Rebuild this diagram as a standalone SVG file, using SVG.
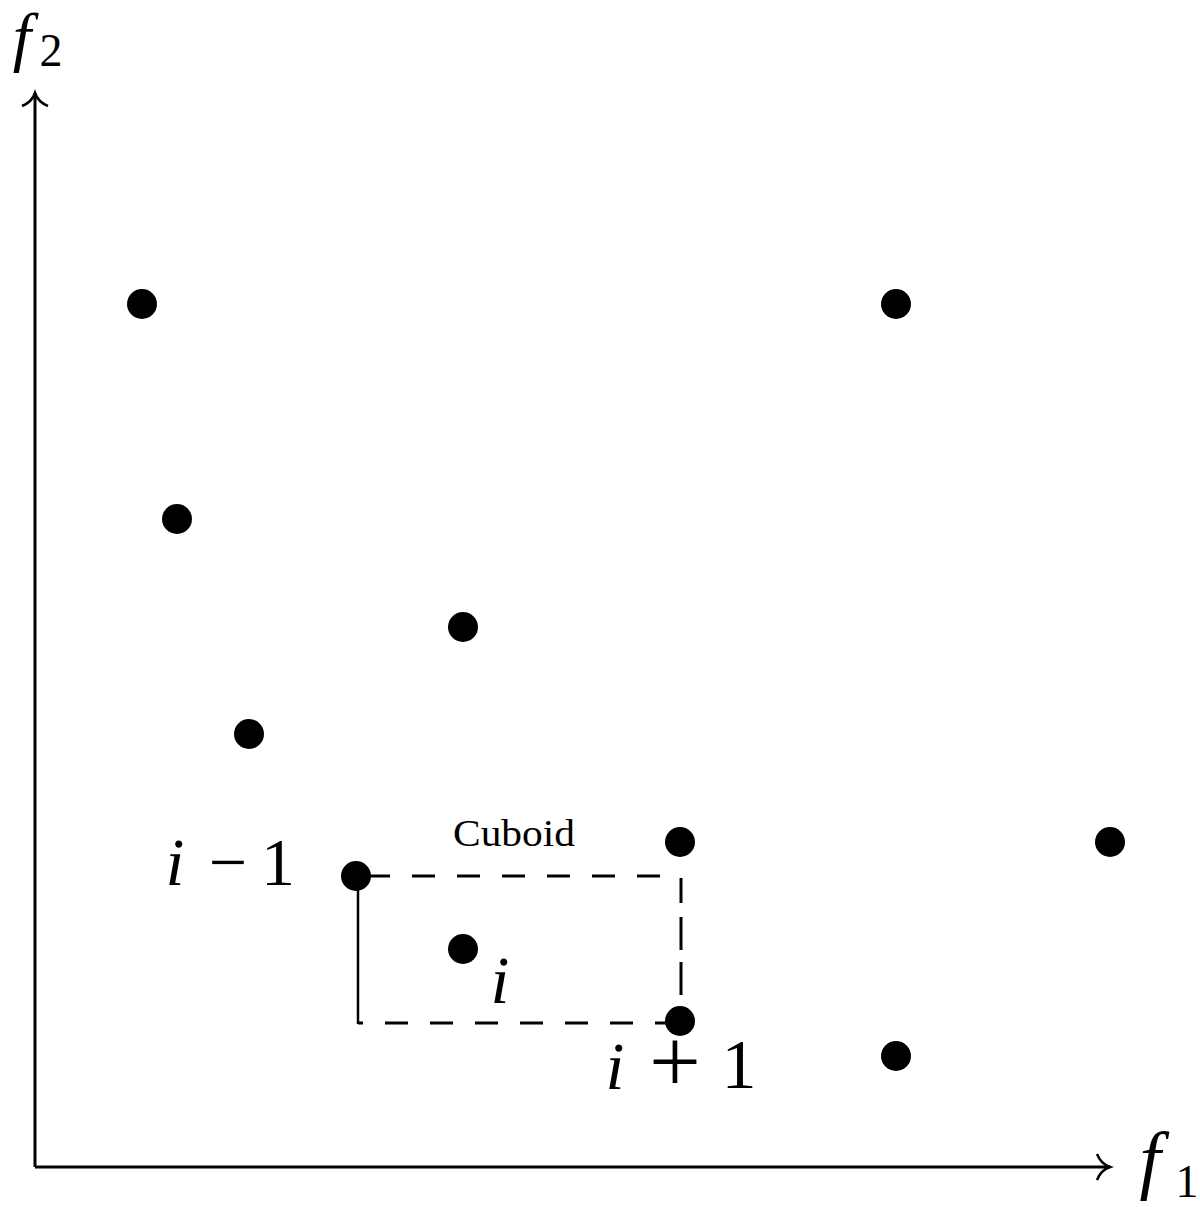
<svg xmlns="http://www.w3.org/2000/svg" width="1200" height="1207" viewBox="0 0 1200 1207">
<defs>
<style>
.axis{stroke:#000;stroke-width:3;fill:none}
.dash{stroke:#000;stroke-width:3;fill:none}
.solid{stroke:#000;stroke-width:2.5;fill:none}
.dot{fill:#000}
.math{font-family:"Liberation Serif",serif;font-style:italic;fill:#000;text-anchor:middle}
.up{font-family:"Liberation Serif",serif;fill:#000;text-anchor:middle}
</style>
<marker id="arr" viewBox="0 0 30 30" refX="25" refY="15" markerWidth="30" markerHeight="30" markerUnits="userSpaceOnUse" orient="auto">
<path d="M12,2 Q16,12 25,15 Q16,18 12,28" fill="none" stroke="#000" stroke-width="2.5"/>
</marker>
</defs>
<rect width="1200" height="1207" fill="#fff"/>
<g id="connectors">
<path class="axis" d="M35,1167 L35,93" marker-end="url(#arr)"/>
<path class="axis" d="M35,1167 L1110,1167" marker-end="url(#arr)"/>
<path class="dash" d="M356,876 L681,876" stroke-dasharray="23,22" stroke-dashoffset="34"/>
<path class="dash" d="M681,878 L681,1010" stroke-dasharray="25,14,33,12,33,30"/>
<path class="dash" d="M358,1023 L668,1023" stroke-dasharray="23,22" stroke-dashoffset="18"/>
<path class="solid" d="M358,876 L358,1024"/>
</g>
<g id="labels">
<text class="math" x="22" y="59" font-size="66">f</text>
<text class="up" x="51" y="66" font-size="46">2</text>
<text class="math" x="1150" y="1185" font-size="76">f</text>
<text class="up" x="1187" y="1197" font-size="46">1</text>
<text class="up" x="514" y="846" font-size="37" textLength="122" lengthAdjust="spacingAndGlyphs">Cuboid</text>
<text class="math" x="175" y="885" font-size="68">i</text>
<text class="up" x="228" y="885" font-size="68">−</text>
<text class="up" x="278" y="885" font-size="68">1</text>
<text class="math" x="500" y="1003" font-size="68">i</text>
<text class="math" x="615" y="1089" font-size="68">i</text>
<text class="up" x="675" y="1092" font-size="92">+</text>
<text class="up" x="739" y="1088" font-size="70">1</text>
</g>
<g id="points">
<circle id="p1" class="dot" cx="142" cy="304" r="15"/>
<circle id="p2" class="dot" cx="896" cy="304" r="15"/>
<circle id="p3" class="dot" cx="177" cy="519" r="15"/>
<circle id="p4" class="dot" cx="463" cy="627" r="15"/>
<circle id="p5" class="dot" cx="249" cy="734" r="15"/>
<circle id="p6" class="dot" cx="680" cy="842" r="15"/>
<circle id="p7" class="dot" cx="1110" cy="842" r="15"/>
<circle id="p8" class="dot" cx="356" cy="876" r="15"/>
<circle id="p9" class="dot" cx="463" cy="949" r="15"/>
<circle id="p10" class="dot" cx="680" cy="1021" r="15"/>
<circle id="p11" class="dot" cx="896" cy="1056" r="15"/>
</g>
</svg>
